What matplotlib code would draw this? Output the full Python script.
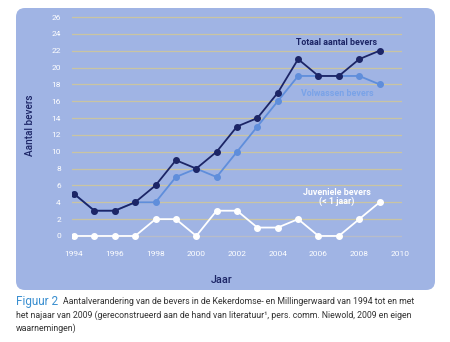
import matplotlib
matplotlib.use("Agg")
import matplotlib.pyplot as plt
from matplotlib.patches import FancyBboxPatch

years = [1994, 1995, 1996, 1997, 1998, 1999, 2000, 2001, 2002, 2003, 2004, 2005, 2006, 2007, 2008, 2009]
totaal = [5, 3, 3, 4, 6, 9, 8, 10, 13, 14, 17, 21, 19, 19, 21, 22]
volwassen = [5, 3, 3, 4, 4, 7, 8, 7, 10, 13, 16, 19, 19, 19, 19, 18]
juveniel = [0, 0, 0, 0, 2, 2, 0, 3, 3, 1, 1, 2, 0, 0, 2, 4]
xticks = [1994, 1996, 1998, 2000, 2002, 2004, 2006, 2008, 2010]
yticks = list(range(0, 27, 2))

W, H = 450, 342
fig = plt.figure(figsize=(W / 100, H / 100), dpi=100)
fig.patch.set_facecolor("white")

bg = "#a0b4e4"
navy = "#1c2566"
light = "#5f8edb"
grid_c = "#c9c4a2"
font = "Roboto"

panel = FancyBboxPatch((16 / W, (H - 290) / H), 419 / W, 282 / H,
                       boxstyle="round,pad=0,rounding_size=0.02",
                       mutation_aspect=W / H,
                       transform=fig.transFigure, facecolor=bg, edgecolor="none", zorder=-5)
fig.patches.append(panel)

ax = fig.add_axes([72 / W, (H - 238.5) / H, 330 / W, 224 / H])
ax.set_zorder(2)
ax.set_facecolor("none")
ax.set_xlim(1993.9, 2010.1)
ax.set_ylim(-0.3, 26.3)
for s in ax.spines.values():
    s.set_visible(False)
ax.set_xticks(xticks)
ax.set_yticks(yticks)
ax.tick_params(length=0, labelsize=6, labelcolor="white", pad=8)
ax.tick_params(axis="x", pad=9)
for lab in ax.get_xticklabels() + ax.get_yticklabels():
    lab.set_family(font)
for y in yticks:
    ax.axhline(y, color=grid_c if y > 0 else "#b8bcc8", lw=0.9, zorder=1)

ax.plot(years, juveniel, color="white", lw=1.3, marker="o", ms=4, zorder=3)
ax.plot(years, volwassen, color=light, lw=1.3, marker="o", ms=4, zorder=4)
ax.plot(years, totaal, color=navy, lw=1.3, marker="o", ms=4, zorder=5)

ax.text(2006.9, 23.0, "Totaal aantal bevers", color=navy, fontsize=6.4, fontweight="bold",
        family=font, ha="center", va="center")
ax.text(2006.9, 16.9, "Volwassen bevers", color="#7aa3e8", fontsize=6.4, fontweight="bold",
        family=font, ha="center", va="center")
ax.text(2006.9, 4.6, "Juveniele bevers\n(< 1 jaar)", color="white", fontsize=6.4, fontweight="bold",
        family=font, ha="center", va="center", linespacing=1.0)

fig.text(30 / W, 1 - 125 / H, "Aantal bevers", rotation=90, color=navy, fontsize=7.2,
         family=font, fontweight="medium", ha="center", va="center", zorder=3)
fig.text(222 / W, 1 - 280 / H, "Jaar", color=navy, fontsize=7.8, family=font,
         fontweight="medium", ha="center", va="center", zorder=3)

fig.text(16 / W, 1 - 301 / H, "Figuur 2", color="#3a8fd0", fontsize=8.5, family=font,
         ha="left", va="center")
cap_fs = 6.3
fig.text(63 / W, 1 - 301 / H,
         "Aantalverandering van de bevers in de Kekerdomse- en Millingerwaard van 1994 tot en met",
         color="#333333", fontsize=cap_fs, family=font, ha="left", va="center")
fig.text(16 / W, 1 - 315 / H,
         "het najaar van 2009 (gereconstrueerd aan de hand van literatuur¹, pers. comm. Niewold, 2009 en eigen",
         color="#333333", fontsize=cap_fs, family=font, ha="left", va="center")
fig.text(16 / W, 1 - 328 / H, "waarnemingen)",
         color="#333333", fontsize=cap_fs, family=font, ha="left", va="center")

fig.savefig("out.png", dpi=100, facecolor="white")
